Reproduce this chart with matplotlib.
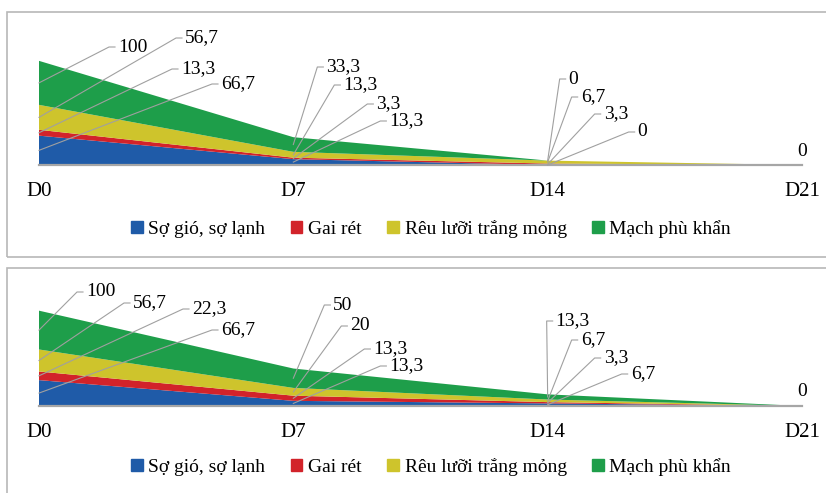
import numpy as np
import matplotlib
matplotlib.use("Agg")
import matplotlib.pyplot as plt
from matplotlib.lines import Line2D
from matplotlib.patches import Patch, Rectangle
from matplotlib.transforms import IdentityTransform

plt.rcParams["font.family"] = ["Liberation Serif", "DejaVu Serif"]

# Data
days = ["D0", "D7", "D14", "D21"]
series = ["Sợ gió, sợ lạnh", "Gai rét", "Rêu lưỡi trắng mỏng", "Mạch phù khẩn"]
colors = ["#1f5ba8", "#d2232a", "#cec42c", "#1e9e4a"]

# upper chart
top_so_gio = [66.7, 13.3, 0, 0]
top_gai_ret = [13.3, 3.3, 3.3, 0]
top_reu_luoi = [56.7, 13.3, 6.7, 0]
top_mach_phu = [100, 33.3, 0, 0]

# lower chart
bot_so_gio = [66.7, 13.3, 6.7, 0]
bot_gai_ret = [22.3, 13.3, 3.3, 0]
bot_reu_luoi = [56.7, 20, 6.7, 0]
bot_mach_phu = [100, 50, 13.3, 0]

# label placement in pixels (dx from point, height above baseline), top series first
top_offsets = [
    [(79, 118), (146, 127), (142, 96), (182, 81)],
    [(33, 98), (50, 80), (83, 61), (96, 44)],
    [(21, 86), (33, 68), (56, 51), (90, 33)],
]
bot_offsets = [
    [(47, 114), (94, 103), (153, 97), (182, 76)],
    [(40, 101), (57, 80), (80, 57), (96, 40)],
    [(8, 85), (33, 66), (56, 48), (83, 32)],
]

W, H = 826, 493
fig = plt.figure(figsize=(W / 100, H / 100), dpi=100)

# panel frames
fig.add_artist(Rectangle((7 / W, 1 - 257 / H), 1, 245 / H, transform=fig.transFigure,
                         fill=False, edgecolor="#b8b8b8", lw=1.2))
fig.add_artist(Rectangle((7 / W, -0.1), 1, 1 - 268 / H + 0.1, transform=fig.transFigure,
                         fill=False, edgecolor="#b8b8b8", lw=1.2))


def fmt(v):
    return f"{v:g}".replace(".", ",")


def draw_panel(ax, data, offsets, legend_y):
    data = np.array(data)
    x = np.arange(len(days))
    ax.stackplot(x, *data, colors=colors, linewidth=0)
    ax.set_xlim(0, 3)
    ax.set_ylim(0, 250)
    for s in ax.spines.values():
        s.set_visible(False)
    ax.axhline(0, color="#a6a6a6", lw=1.6, clip_on=False)
    ax.set_xticks(x, days)
    ax.set_yticks([])
    ax.tick_params(axis="x", length=0, pad=12, labelsize=15)
    ax.patch.set_alpha(0)

    cum = np.cumsum(data, axis=0)
    to_disp = ax.transData.transform
    for j in range(3):
        base = to_disp((x[j], 0))
        for k, (dx, h) in enumerate(offsets[j]):
            i = 3 - k
            mid = cum[i][j] - data[i][j] / 2
            p = to_disp((x[j], mid))
            tx, ty = base[0] + dx, base[1] + h
            fig.add_artist(Line2D([p[0], tx - 9, tx - 3], [p[1], ty, ty],
                                  transform=IdentityTransform(), color="#a0a0a0", lw=0.8))
            fig.text(tx, ty, fmt(data[i][j]), transform=IdentityTransform(),
                     ha="left", va="center", fontsize=14)
    end = to_disp((x[3], 0))
    fig.text(end[0], end[1] + 14, fmt(cum[-1][3]), transform=IdentityTransform(),
             ha="center", va="center", fontsize=14)

    handles = [Patch(color=c) for c in colors]
    fig.legend(handles, series, loc="center", bbox_to_anchor=(431 / W, 1 - legend_y / H),
               ncol=4, frameon=False, fontsize=14, handlelength=0.6, handleheight=0.6,
               handletextpad=0.3, columnspacing=1.3)


ax1 = fig.add_axes([39 / W, 1 - 165 / H, 763 / W, 110 / H])
draw_panel(ax1, [top_so_gio, top_gai_ret, top_reu_luoi, top_mach_phu], top_offsets, 229)

ax2 = fig.add_axes([39 / W, 1 - 406 / H, 763 / W, 97 / H])
draw_panel(ax2, [bot_so_gio, bot_gai_ret, bot_reu_luoi, bot_mach_phu], bot_offsets, 467)

fig.savefig("out.png", dpi=100)
